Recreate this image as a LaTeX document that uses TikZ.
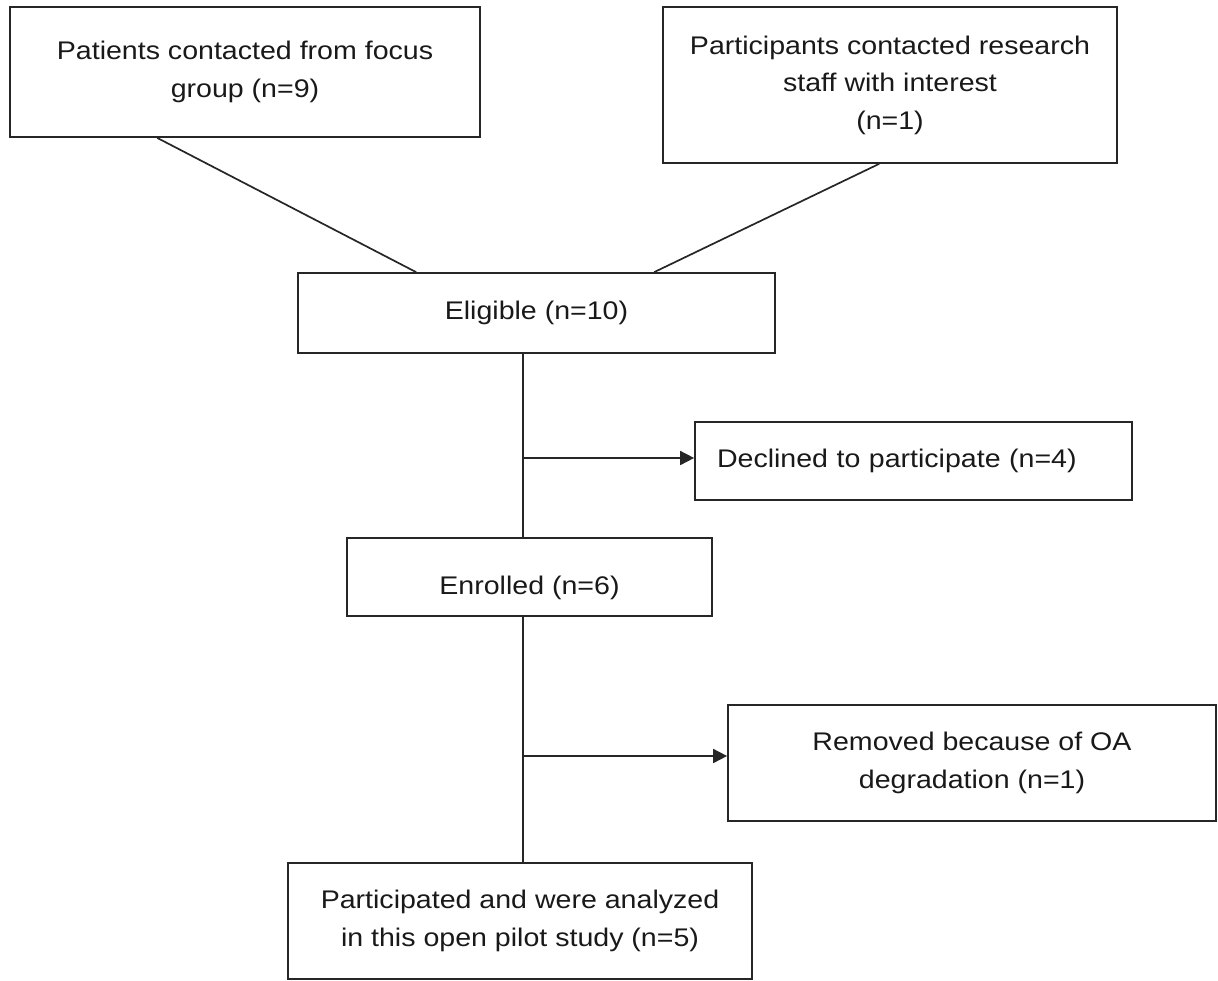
\documentclass[tikz,border=0pt]{standalone}
\usepackage{fontspec}
\setmainfont{Liberation Sans}[FakeStretch=1.12]
\usetikzlibrary{arrows.meta,calc}
\begin{document}
\begin{tikzpicture}[x=1pt,y=-1pt,
  box/.style={draw=black!85, line width=1.7pt, inner sep=0pt, align=center,
    font=\fontsize{25.5}{37.5}\selectfont, text=black!90},
  link/.style={draw=black!85, line width=1.7pt},
  arr/.style={link, -{Triangle[length=14pt,width=14pt]}}]
\useasboundingbox (0,0) rectangle (1218,980);
\coordinate (spine) at (523,0);
\node[box, minimum width=470pt, minimum height=130pt] (b1) at (245,72)
  {Patients contacted from focus\\group (n=9)};
\node[box, minimum width=454pt, minimum height=156pt] (b2) at (890,85)
  {Participants contacted research\\staff with interest\\(n=1)};
\node[box, minimum width=477pt, minimum height=80pt] (elig) at (536.5,313)
  {Eligible (n=10)};
\node[box, minimum width=437pt, minimum height=78pt, text width=393pt,
  inner xsep=22pt, align=left] (decl) at (913.5,461)
  {Declined to participate (n=4)};
\node[box, minimum width=365pt, minimum height=78pt, text height=38pt,
  text depth=4pt] (enr) at (529.5,577)
  {Enrolled (n=6)};
\node[box, minimum width=488pt, minimum height=116pt] (rem) at (972,763)
  {Removed because of OA\\degradation (n=1)};
\node[box, minimum width=464pt, minimum height=116pt] (part) at (520,921)
  {Participated and were analyzed\\in this open pilot study (n=5)};
\draw[link] ($(b1.south west)+(148,0)$) -- ($(elig.north west)+(119,0)$);
\draw[link] ($(b2.south west)+(217,0)$) -- ($(elig.north west)+(357,0)$);
\draw[link] (spine |- elig.south) -- (spine |- enr.north);
\draw[link] (spine |- enr.south) -- (spine |- part.north);
\draw[arr] ($(spine |- decl.west)+(0,-3)$) -- ($(decl.west)+(0,-3)$);
\draw[arr] ($(spine |- rem.west)+(0,-7)$) -- ($(rem.west)+(0,-7)$);
\end{tikzpicture}
\end{document}
